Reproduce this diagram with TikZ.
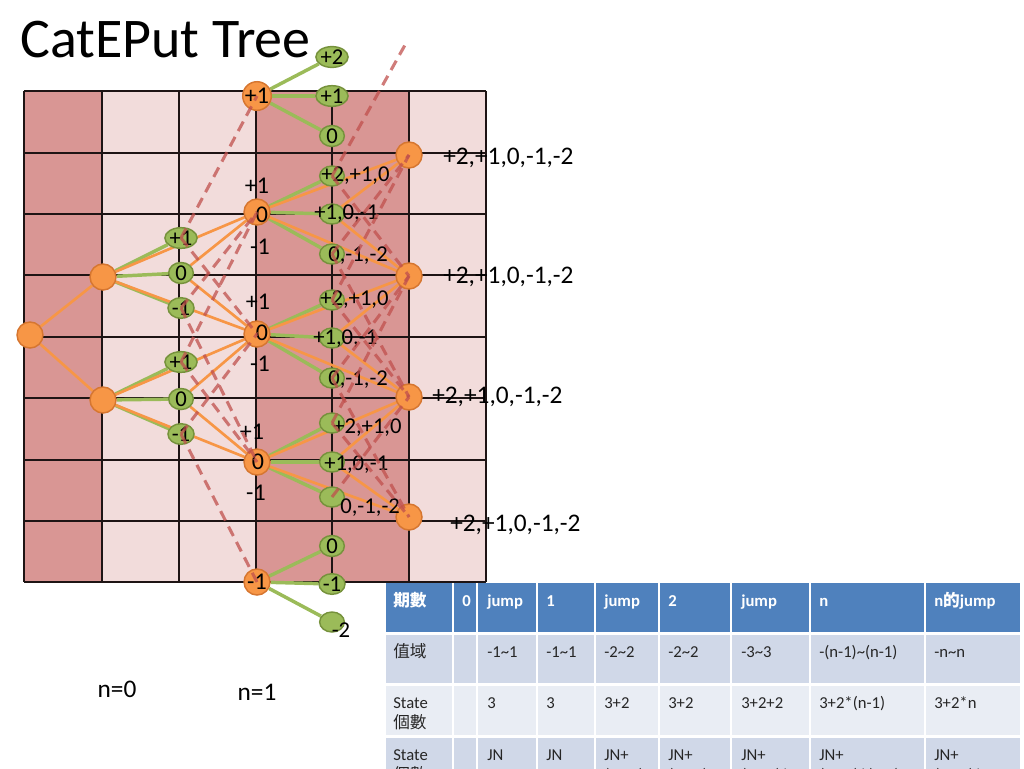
\documentclass[tikz,border=0pt]{standalone}
\usepackage{fontspec}
\setmainfont{Carlito}
\newfontfamily\cjk{Noto Sans CJK TC}
\usetikzlibrary{shapes.geometric}
\pgfdeclarelayer{grid}\pgfdeclarelayer{edges}\pgfdeclarelayer{top}
\pgfsetlayers{grid,edges,main,top}
\definecolor{darkcol}{RGB}{217,150,148}
\definecolor{lightcol}{RGB}{242,220,219}
\definecolor{orgfill}{RGB}{247,150,70}
\definecolor{orgdraw}{RGB}{214,118,48}
\definecolor{grnfill}{RGB}{155,187,89}
\definecolor{grndraw}{RGB}{118,146,60}
\definecolor{jumpred}{RGB}{192,80,77}
\definecolor{tblue}{RGB}{79,129,189}
\definecolor{trowa}{RGB}{208,216,232}
\definecolor{trowb}{RGB}{233,237,244}
\definecolor{gridline}{RGB}{30,20,20}
\tikzset{
  onode/.style={circle, fill=orgfill, draw=orgdraw, line width=1.1pt, minimum size=19.5pt, inner sep=0pt, font=\fontsize{18}{18}\selectfont},
  gnode/.style={ellipse, fill=grnfill, draw=grndraw, line width=1.1pt, minimum width=18.5pt, minimum height=15pt, inner sep=0pt, font=\fontsize{17}{17}\selectfont},
  gedge/.style={draw=grnfill, line width=2.6pt},
  oedge/.style={draw=orgfill, line width=2pt},
  jumpline/.style={draw=jumpred, line width=2.3pt, dash pattern=on 8pt off 5pt, opacity=0.75},
  glab/.style={inner sep=0pt, anchor=west, font=\fontsize{17}{17}\selectfont},
  lab/.style={inner sep=0pt, font=\fontsize{18}{18}\selectfont},
  rlab/.style={inner sep=0pt, anchor=west, font=\fontsize{19}{19}\selectfont},
  thead/.style={inner sep=0pt, anchor=base west, text=white, font=\fontsize{12.5}{12.5}\selectfont\bfseries},
  tcell/.style={inner sep=0pt, anchor=base west, text=black!85, font=\fontsize{12.5}{12.5}\selectfont},
}
\begin{document}
\begin{tikzpicture}[x=0.75pt,y=-0.75pt]
\path[use as bounding box] (0,0) rectangle (1024,768);
\clip (0,0) rectangle (1024,768);

% columns and grid
\begin{pgfonlayer}{grid}
\foreach \a/\b/\c in {24/102/darkcol,102/179/lightcol,179/256/lightcol,256/332/darkcol,332/409/darkcol,409/486/lightcol}
  \fill[\c] (\a,91) rectangle (\b,582);
\foreach \x in {24,102,179,256,332,409,486}
  \draw[gridline, line width=1.1pt] (\x,91) -- (\x,582);
\foreach \y in {91,153,214,275,337,398,460,521,582}
  \draw[gridline, line width=1.1pt] (24,\y) -- (486,\y);
\end{pgfonlayer}

% title
\node[anchor=base west, inner sep=0pt, font=\fontsize{42}{42}\selectfont] (title) at (20,57) {CatEPut Tree};

% orange nodes
\node[onode] (r) at (30,335) {};
\node[onode] (a1) at (103,277) {};
\node[onode] (a2) at (103,400) {};
\node[onode] (b0) at (257,96) {+1};
\node[onode] (b1) at (257,212) {};
\node[onode] (b2) at (257,334) {};
\node[onode] (b3) at (257,462) {};
\node[onode] (b4) at (257,582) {-1};
\node[onode] (c1) at (409,155) {};
\node[onode] (c2) at (409,276) {};
\node[onode] (c3) at (409,397) {};
\node[onode] (c4) at (409,517) {};

% green nodes, first column
\node[gnode] (g11) at (181,238) {+1};
\node[gnode] (g12) at (181,273) {0};
\node[gnode] (g13) at (181,308) {-1};
\node[gnode] (g21) at (181,362) {+1};
\node[gnode] (g22) at (181,399) {0};
\node[gnode] (g23) at (181,434) {-1};

% green nodes, second column
\node[gnode] (h01) at (332,57) {+2};
\node[gnode] (h02) at (332,96) {+1};
\node[gnode] (h03) at (332,136) {0};
\node[gnode] (h11) at (332,176) {};
\node[gnode] (h12) at (332,214) {};
\node[gnode] (h13) at (332,254) {};
\node[gnode] (h21) at (332,300) {};
\node[gnode] (h22) at (332,338) {};
\node[gnode] (h23) at (332,378) {};
\node[gnode] (h31) at (332,423) {};
\node[gnode] (h32) at (332,462) {};
\node[gnode] (h33) at (332,497) {};
\node[gnode] (h41) at (332,546) {0};
\node[gnode] (h42) at (332,584) {-1};
\node[gnode] (h43) at (332,622) {};

% edges
\begin{pgfonlayer}{edges}
\foreach \s/\t in {a1/g11,a1/g12,a1/g13,a2/g21,a2/g22,a2/g23,
  b0/h01,b0/h02,b0/h03,b1/h11,b1/h12,b1/h13,b2/h21,b2/h22,b2/h23,
  b3/h31,b3/h32,b3/h33,b4/h41,b4/h42,b4/h43}
  \draw[gedge] (\s) -- (\t);
\foreach \s/\t in {r/a1,r/a2,a1/b1,a1/b2,g12/b1,g12/b2,a2/b2,a2/b3,g22/b2,g22/b3,
  b1/c1,b1/c2,h12/c1,h12/c2,b2/c2,b2/c3,h22/c2,h22/c3,b3/c3,b3/c4,h32/c3,h32/c4}
  \draw[oedge] (\s) -- (\t);
\end{pgfonlayer}

% labels
\node[lab] (lb1) at (262,215) {0};
\node[lab] (lb2) at (262,333) {0};
\node[lab] (lb3) at (258,462) {0};
\node[lab] (p1) at (257,186) {+1};
\node[lab] (m1) at (260,247) {-1};
\node[lab] (p2) at (258,302) {+1};
\node[lab] (m2) at (260,364) {-1};
\node[lab] (p3) at (252,432) {+1};
\node[lab] (m3) at (256,493) {-1};
\node[glab] (l11) at (321,176) {+2,+1,0};
\node[glab] (l12) at (314,214) {+1,0,-1};
\node[glab] (l13) at (328,256) {0,-1,-2};
\node[glab] (l21) at (320,300) {+2,+1,0};
\node[glab] (l22) at (313,339) {+1,0,-1};
\node[glab] (l23) at (328,380) {0,-1,-2};
\node[glab] (l31) at (333,428) {+2,+1,0};
\node[glab] (l32) at (324,465) {+1,0,-1};
\node[glab] (l33) at (340,508) {0,-1,-2};
\node[lab, font=\fontsize{17}{17}\selectfont] (l43) at (341,630) {-2};
\node[rlab] (R1) at (443,158) {+2,+1,0,-1,-2};
\node[rlab] (R2) at (443,277) {+2,+1,0,-1,-2};
\node[rlab] (R3) at (432,397) {+2,+1,0,-1,-2};
\node[rlab] (R4) at (450,525) {+2,+1,0,-1,-2};
\node[lab, font=\fontsize{19}{19}\selectfont] (n0) at (117,689) {n=0};
\node[lab, font=\fontsize{19}{19}\selectfont] (n1) at (257,692) {n=1};

% jump (dashed) lines
\coordinate (jt) at (405,45);
\begin{pgfonlayer}{top}
\foreach \s/\t in {g11/b0,g11/b2,g13/b1,g13/b3,g21/b1,g21/b3,g23/b2,g23/b4,
  h11/jt,h11/c2,h13/c1,h13/c3,h21/c1,h21/c3,h23/c2,h23/c4,h31/c2,h31/c4,h33/c3}
  \draw[jumpline] (\s.center) -- (\t.center);
\end{pgfonlayer}

% table
\foreach \a/\b in {385/453,453/477,477/537,537/595,595/659,659/731,731/810,810/925,925/1021}{
  \fill[tblue] (\a+1,583) rectangle (\b-1,632);
  \fill[trowa] (\a+1,635) rectangle (\b-1,683);
  \fill[trowb] (\a+1,686) rectangle (\b-1,735);
  \fill[trowa] (\a+1,738) rectangle (\b-1,790);
}
\node[thead] (h1) at (393,606) {\cjk 期數};
\node[thead] (h2) at (462,606) {0};
\node[thead] (h3) at (487,606) {jump};
\node[thead] (h4) at (546,606) {1};
\node[thead] (h5) at (604,606) {jump};
\node[thead] (h6) at (668,606) {2};
\node[thead] (h7) at (741,606) {jump};
\node[thead] (h8) at (819,606) {n};
\node[thead] (h9) at (934,606) {n{\cjk 的}jump};
\node[tcell] (v1) at (393,657) {\cjk 值域};
\node[tcell] (v3) at (487,657) {-1\textasciitilde1};
\node[tcell] (v4) at (546,657) {-1\textasciitilde1};
\node[tcell] (v5) at (604,657) {-2\textasciitilde2};
\node[tcell] (v6) at (668,657) {-2\textasciitilde2};
\node[tcell] (v7) at (741,657) {-3\textasciitilde3};
\node[tcell] (v8) at (819,657) {-(n-1)\textasciitilde(n-1)};
\node[tcell] (v9) at (934,657) {-n\textasciitilde n};
\node[tcell] (s1) at (393,708) {State};
\node[tcell] (s1b) at (393,728) {\cjk 個數};
\node[tcell] (s3) at (487,708) {3};
\node[tcell] (s4) at (546,708) {3};
\node[tcell] (s5) at (604,708) {3+2};
\node[tcell] (s6) at (668,708) {3+2};
\node[tcell] (s7) at (741,708) {3+2+2};
\node[tcell] (s8) at (819,708) {3+2*(n-1)};
\node[tcell] (s9) at (934,708) {3+2*n};
\node[tcell] (t1) at (393,760) {State};
\node[tcell] (t1b) at (393,780) {\cjk 個數};
\node[tcell] (t3) at (487,760) {JN};
\node[tcell] (t4) at (546,760) {JN};
\node[tcell] (t5) at (604,760) {JN+};
\node[tcell] (t5b) at (604,780) {(JN-1)};
\node[tcell] (t6) at (668,760) {JN+};
\node[tcell] (t6b) at (668,780) {(JN-1)};
\node[tcell] (t7) at (741,760) {JN+};
\node[tcell] (t7b) at (741,780) {(JN-1)*2};
\node[tcell] (t8) at (819,760) {JN+};
\node[tcell] (t8b) at (819,780) {(JN-1)*(n-1)};
\node[tcell] (t9) at (934,760) {JN+};
\node[tcell] (t9b) at (934,780) {(JN-1)*n};
\end{tikzpicture}
\end{document}
